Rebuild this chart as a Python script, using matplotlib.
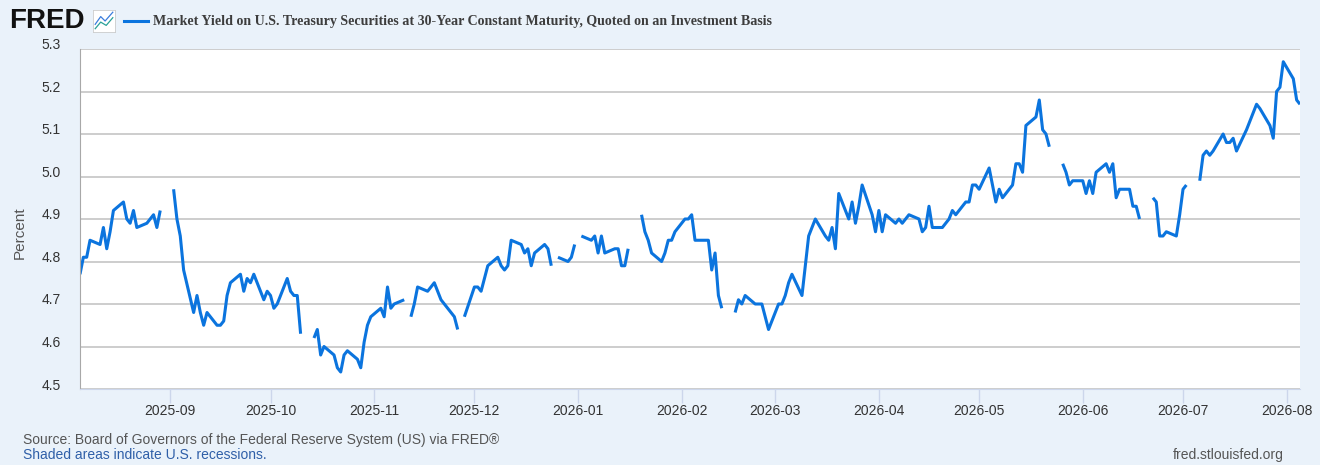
import numpy as np
import pandas as pd
import matplotlib
matplotlib.use('Agg')
import matplotlib.pyplot as plt
import matplotlib.dates as mdates
from matplotlib.lines import Line2D
from matplotlib.transforms import ScaledTranslation

plt.rcParams['font.family'] = ['Liberation Sans', 'DejaVu Sans']

# Datos (None = feriado, el trazo se corta)
dates = [
    # 2025-08
    '2025-08-05', '2025-08-06', '2025-08-07', '2025-08-08', '2025-08-11', '2025-08-12', '2025-08-13',
    '2025-08-14', '2025-08-15', '2025-08-18', '2025-08-19', '2025-08-20', '2025-08-21', '2025-08-22',
    '2025-08-25', '2025-08-26', '2025-08-27', '2025-08-28', '2025-08-29',
    # 2025-09
    '2025-09-01', '2025-09-02', '2025-09-03', '2025-09-04', '2025-09-05', '2025-09-08', '2025-09-09',
    '2025-09-10', '2025-09-11', '2025-09-12', '2025-09-15', '2025-09-16', '2025-09-17', '2025-09-18',
    '2025-09-19', '2025-09-22', '2025-09-23', '2025-09-24', '2025-09-25', '2025-09-26', '2025-09-29',
    '2025-09-30',
    # 2025-10
    '2025-10-01', '2025-10-02', '2025-10-03', '2025-10-06', '2025-10-07', '2025-10-08', '2025-10-09',
    '2025-10-10', '2025-10-13', '2025-10-14', '2025-10-15', '2025-10-16', '2025-10-17', '2025-10-20',
    '2025-10-21', '2025-10-22', '2025-10-23', '2025-10-24', '2025-10-27', '2025-10-28', '2025-10-29',
    '2025-10-30', '2025-10-31',
    # 2025-11
    '2025-11-03', '2025-11-04', '2025-11-05', '2025-11-06', '2025-11-07', '2025-11-10', '2025-11-11',
    '2025-11-12', '2025-11-13', '2025-11-14', '2025-11-17', '2025-11-18', '2025-11-19', '2025-11-20',
    '2025-11-21', '2025-11-24', '2025-11-25', '2025-11-26', '2025-11-27', '2025-11-28',
    # 2025-12
    '2025-12-01', '2025-12-02', '2025-12-03', '2025-12-04', '2025-12-05', '2025-12-08', '2025-12-09',
    '2025-12-10', '2025-12-11', '2025-12-12', '2025-12-15', '2025-12-16', '2025-12-17', '2025-12-18',
    '2025-12-19', '2025-12-22', '2025-12-23', '2025-12-24', '2025-12-25', '2025-12-26', '2025-12-29',
    '2025-12-30', '2025-12-31',
    # 2026-01
    '2026-01-01', '2026-01-02', '2026-01-05', '2026-01-06', '2026-01-07', '2026-01-08', '2026-01-09',
    '2026-01-12', '2026-01-13', '2026-01-14', '2026-01-15', '2026-01-16', '2026-01-19', '2026-01-20',
    '2026-01-21', '2026-01-22', '2026-01-23', '2026-01-26', '2026-01-27', '2026-01-28', '2026-01-29',
    '2026-01-30',
    # 2026-02
    '2026-02-02', '2026-02-03', '2026-02-04', '2026-02-05', '2026-02-06', '2026-02-09', '2026-02-10',
    '2026-02-11', '2026-02-12', '2026-02-13', '2026-02-16', '2026-02-17', '2026-02-18', '2026-02-19',
    '2026-02-20', '2026-02-23', '2026-02-24', '2026-02-25', '2026-02-26', '2026-02-27',
    # 2026-03
    '2026-03-02', '2026-03-03', '2026-03-04', '2026-03-05', '2026-03-06', '2026-03-09', '2026-03-10',
    '2026-03-11', '2026-03-12', '2026-03-13', '2026-03-16', '2026-03-17', '2026-03-18', '2026-03-19',
    '2026-03-20', '2026-03-23', '2026-03-24', '2026-03-25', '2026-03-26', '2026-03-27', '2026-03-30',
    '2026-03-31',
    # 2026-04
    '2026-04-01', '2026-04-02', '2026-04-03', '2026-04-06', '2026-04-07', '2026-04-08', '2026-04-09',
    '2026-04-10', '2026-04-13', '2026-04-14', '2026-04-15', '2026-04-16', '2026-04-17', '2026-04-20',
    '2026-04-21', '2026-04-22', '2026-04-23', '2026-04-24', '2026-04-27', '2026-04-28', '2026-04-29',
    '2026-04-30',
    # 2026-05
    '2026-05-01', '2026-05-04', '2026-05-05', '2026-05-06', '2026-05-07', '2026-05-08', '2026-05-11',
    '2026-05-12', '2026-05-13', '2026-05-14', '2026-05-15', '2026-05-18', '2026-05-19', '2026-05-20',
    '2026-05-21', '2026-05-22', '2026-05-25', '2026-05-26', '2026-05-27', '2026-05-28', '2026-05-29',
    # 2026-06
    '2026-06-01', '2026-06-02', '2026-06-03', '2026-06-04', '2026-06-05', '2026-06-08', '2026-06-09',
    '2026-06-10', '2026-06-11', '2026-06-12', '2026-06-15', '2026-06-16', '2026-06-17', '2026-06-18',
    '2026-06-19', '2026-06-22', '2026-06-23', '2026-06-24', '2026-06-25', '2026-06-26', '2026-06-29',
    '2026-06-30',
    # 2026-07
    '2026-07-01', '2026-07-02', '2026-07-03', '2026-07-06', '2026-07-07', '2026-07-08', '2026-07-09',
    '2026-07-10', '2026-07-13', '2026-07-14', '2026-07-15', '2026-07-16', '2026-07-17', '2026-07-20',
    '2026-07-21', '2026-07-22', '2026-07-23', '2026-07-24', '2026-07-27', '2026-07-28', '2026-07-29',
    '2026-07-30', '2026-07-31',
    # 2026-08
    '2026-08-03', '2026-08-04', '2026-08-05',
]

yields = [
    # 2025-08
    4.77, 4.81, 4.81, 4.85, 4.84, 4.88, 4.83,
    4.87, 4.92, 4.94, 4.90, 4.89, 4.92, 4.88,
    4.89, 4.90, 4.91, 4.88, 4.92,
    # 2025-09
    None, 4.97, 4.90, 4.86, 4.78, 4.68, 4.72,
    4.68, 4.65, 4.68, 4.65, 4.65, 4.66, 4.72,
    4.75, 4.77, 4.73, 4.76, 4.75, 4.77, 4.71,
    4.73,
    # 2025-10
    4.72, 4.69, 4.70, 4.76, 4.73, 4.72, 4.72,
    4.63, None, 4.62, 4.64, 4.58, 4.60, 4.58,
    4.55, 4.54, 4.58, 4.59, 4.57, 4.55, 4.61,
    4.65, 4.67,
    # 2025-11
    4.69, 4.67, 4.74, 4.69, 4.70, 4.71, None,
    4.67, 4.70, 4.74, 4.73, 4.74, 4.75, 4.73,
    4.71, 4.68, 4.67, 4.64, None, 4.67,
    # 2025-12
    4.74, 4.74, 4.73, 4.76, 4.79, 4.81, 4.79,
    4.78, 4.79, 4.85, 4.84, 4.82, 4.83, 4.79,
    4.82, 4.84, 4.83, 4.79, None, 4.81, 4.80,
    4.81, 4.84,
    # 2026-01
    None, 4.86, 4.85, 4.86, 4.82, 4.86, 4.82,
    4.83, 4.83, 4.79, 4.79, 4.83, None, 4.91,
    4.87, 4.85, 4.82, 4.80, 4.82, 4.85, 4.85,
    4.87,
    # 2026-02
    4.90, 4.90, 4.91, 4.85, 4.85, 4.85, 4.78,
    4.82, 4.72, 4.69, None, 4.68, 4.71, 4.70,
    4.72, 4.70, 4.70, 4.70, 4.67, 4.64,
    # 2026-03
    4.70, 4.70, 4.72, 4.75, 4.77, 4.72, 4.79,
    4.86, 4.88, 4.90, 4.86, 4.85, 4.88, 4.83,
    4.96, 4.90, 4.94, 4.89, 4.93, 4.98, 4.91,
    4.87,
    # 2026-04
    4.92, 4.87, 4.91, 4.89, 4.90, 4.89, 4.90,
    4.91, 4.90, 4.87, 4.88, 4.93, 4.88, 4.88,
    4.89, 4.90, 4.92, 4.91, 4.94, 4.94, 4.98,
    4.98,
    # 2026-05
    4.97, 5.02, 4.98, 4.94, 4.97, 4.95, 4.98,
    5.03, 5.03, 5.01, 5.12, 5.14, 5.18, 5.11,
    5.10, 5.07, None, 5.03, 5.01, 4.98, 4.99,
    # 2026-06
    4.99, 4.96, 4.99, 4.96, 5.01, 5.03, 5.01,
    5.03, 4.95, 4.97, 4.97, 4.93, 4.93, 4.90,
    None, 4.95, 4.94, 4.86, 4.86, 4.87, 4.86,
    4.91,
    # 2026-07
    4.97, 4.98, None, 4.99, 5.05, 5.06, 5.05,
    5.06, 5.10, 5.08, 5.08, 5.09, 5.06, 5.11,
    5.13, 5.15, 5.17, 5.16, 5.12, 5.09, 5.20,
    5.21, 5.27,
    # 2026-08
    5.23, 5.18, 5.17,
]

y_ticks = [4.5, 4.6, 4.7, 4.8, 4.9, 5.0, 5.1, 5.2, 5.3]
title = 'Market Yield on U.S. Treasury Securities at 30-Year Constant Maturity, Quoted on an Investment Basis'

serie = pd.Series(yields, index=pd.to_datetime(dates), dtype=float)

line_color = '#0b74de'
bg = '#eaf2fa'
W, H = 1320, 465

fig = plt.figure(figsize=(W / 100, H / 100), dpi=100, facecolor=bg)
ax = fig.add_axes([80 / W, 1 - 389 / H, 1220 / W, 340 / H])
ax.set_facecolor('white')

ax.plot(serie.index, serie.values, color=line_color, linewidth=2.2,
        solid_joinstyle='round', solid_capstyle='butt')

ax.set_xlim(pd.Timestamp('2025-08-05'), pd.Timestamp('2026-08-05'))
ax.set_ylim(4.5, 5.3)
ax.set_yticks(y_ticks)
ax.set_yticklabels([f'{v:.1f}' for v in y_ticks])
ax.yaxis.grid(True, color='#c0c0c0', linewidth=1.1)
ax.set_axisbelow(True)

ax.xaxis.set_major_locator(mdates.MonthLocator())
ax.xaxis.set_major_formatter(mdates.DateFormatter('%Y-%m'))

for side in ['top', 'right']:
    ax.spines[side].set_visible(False)
ax.spines['left'].set_color('#a8a8a8')
ax.spines['bottom'].set_color('#ccd6eb')

ax.tick_params(axis='x', length=10, width=1, color='#ccd6eb', pad=1,
               labelsize=10, labelcolor='#333333')
ax.tick_params(axis='y', length=0, pad=14, labelsize=10, labelcolor='#333333')
offset = ScaledTranslation(0, 5 / 100, fig.dpi_scale_trans)
for lab in ax.get_yticklabels():
    lab.set_transform(lab.get_transform() + offset)

fig.text(20 / W, 1 - 233 / H, 'Percent', rotation=90, ha='center', va='center',
         fontsize=11, color='#555555')

# Encabezado estilo FRED
fig.text(9 / W, 1 - 21 / H, 'FRED', fontsize=20, fontweight='bold', color='#111111',
         va='center', ha='left')
icono = fig.add_axes([93 / W, 1 - 32 / H, 22 / W, 22 / H])
icono.set_facecolor('white')
icono.plot([0.1, 0.35, 0.55, 0.9], [0.35, 0.7, 0.5, 0.9], color='#3b7ddd', lw=0.9)
icono.plot([0.1, 0.35, 0.6, 0.9], [0.15, 0.45, 0.3, 0.65], color='#2aa198', lw=0.9)
icono.set_xlim(0, 1)
icono.set_ylim(0, 1)
icono.set_xticks([])
icono.set_yticks([])
for sp in icono.spines.values():
    sp.set_color('#cccccc')
    sp.set_linewidth(0.6)

fig.add_artist(Line2D([124 / W, 148 / W], [1 - 21 / H, 1 - 21 / H], color=line_color,
                      linewidth=2.2, transform=fig.transFigure))
fig.text(153 / W, 1 - 21 / H, title, fontfamily='Liberation Serif', fontweight='bold',
         fontsize=10.1, color='#3d3d3d', va='center', ha='left')

# Pie
fig.text(23 / W, 1 - 440 / H, 'Source: Board of Governors of the Federal Reserve System (US) via FRED\u00ae',
         fontsize=10, color='#555555', va='center', ha='left')
fig.text(23 / W, 1 - 455 / H, 'Shaded areas indicate U.S. recessions.',
         fontsize=10, color='#2f5fa8', va='center', ha='left')
fig.text(1284 / W, 1 - 455 / H, 'fred.stlouisfed.org',
         fontsize=10, color='#555555', va='center', ha='right')

fig.savefig('out.png', dpi=100, facecolor=bg)
